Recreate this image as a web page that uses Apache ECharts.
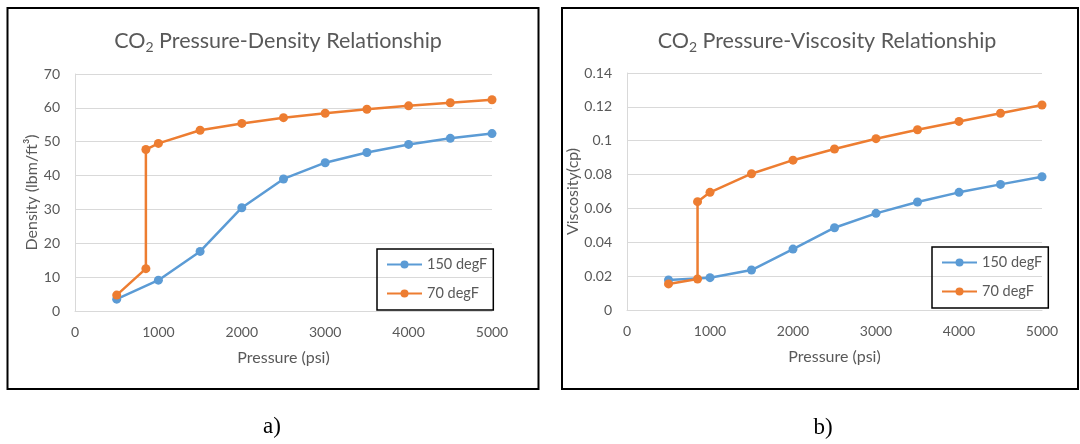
<!DOCTYPE html>
<html>
<head>
<meta charset="utf-8">
<script src="https://cdn.jsdelivr.net/npm/echarts@6/dist/echarts.min.js"></script>
<style>
  html, body { margin: 0; padding: 0; background: #fff; }
  #main { width: 1080px; height: 444px; }
</style>
</head>
<body>
<div id="main"></div>
<script>
// pressure (psi) for each series
const pressure150 = [500, 1000, 1500, 2000, 2500, 3000, 3500, 4000, 4500, 5000];
const pressure70 = [500, 850, 850, 1000, 1500, 2000, 2500, 3000, 3500, 4000, 4500, 5000];

// density (lbm/ft3)
const density150 = [3.5, 9.1, 17.6, 30.5, 39.0, 43.8, 46.8, 49.2, 51.0, 52.4];
const density70 = [4.7, 12.5, 47.7, 49.5, 53.4, 55.4, 57.1, 58.4, 59.6, 60.6, 61.5, 62.4];

// viscosity (cp)
const viscosity150 = [0.0177, 0.0191, 0.0236, 0.036, 0.0486, 0.0571, 0.0638, 0.0695, 0.0742, 0.0787];
const viscosity70 = [0.0154, 0.0183, 0.064, 0.0695, 0.0805, 0.0885, 0.0951, 0.1012, 0.1065, 0.1114, 0.1162, 0.1211];

const seriesNames = ['150 degF', '70 degF'];
const colors = ['#5B9BD5', '#ED7D31'];

const FONT = 'Lato';
const GREY = '#595959';

function pairs(xs, ys) {
    return xs.map((x, i) => [x, ys[i]]);
}

function lineSeries(name, idx, data, color) {
    return {
        name: name,
        type: 'line',
        xAxisIndex: idx,
        yAxisIndex: idx,
        data: data,
        symbol: 'circle',
        symbolSize: 9,
        color: color,
        lineStyle: { width: 2.5, color: color },
        itemStyle: { color: color },
        animation: false
    };
}

function xAxisOpt(idx) {
    return {
        gridIndex: idx,
        type: 'value',
        min: 0,
        max: 5000,
        interval: 1000,
        name: 'Pressure (psi)',
        nameLocation: 'middle',
        nameGap: 39,
        nameTextStyle: { color: GREY, fontFamily: FONT, fontSize: 16 },
        axisLine: { show: true, lineStyle: { color: '#D9D9D9', width: 1 } },
        axisTick: { show: false },
        splitLine: { show: false },
        axisLabel: { color: GREY, fontFamily: FONT, fontSize: 14, margin: 14, formatter: v => String(v) }
    };
}

function yAxisOpt(idx, name, max, interval, gap) {
    return {
        gridIndex: idx,
        type: 'value',
        min: 0,
        max: max,
        interval: interval,
        name: name,
        nameLocation: 'middle',
        nameGap: gap,
        nameTextStyle: { color: GREY, fontFamily: FONT, fontSize: 16 },
        axisLine: { show: true, lineStyle: { color: '#D9D9D9', width: 1 } },
        axisTick: { show: false },
        splitLine: { show: true, lineStyle: { color: '#D9D9D9', width: 1 } },
        axisLabel: { color: GREY, fontFamily: FONT, fontSize: 14, margin: 15 }
    };
}

function titleOpt(x, rest) {
    return {
        text: 'CO{sub|2} ' + rest,
        left: x,
        top: 23,
        textAlign: 'center',
        textStyle: {
            color: GREY, fontFamily: FONT, fontSize: 21.5, fontWeight: 'normal',
            lineHeight: 26,
            rich: {
                sub: { color: GREY, fontFamily: FONT, fontSize: 14, verticalAlign: 'bottom', lineHeight: 12 }
            }
        }
    };
}

function legendOpt(left, top) {
    return {
        data: seriesNames,
        orient: 'vertical',
        left: left,
        top: top,
        padding: [8, 6, 9, 9],
        itemGap: 14,
        itemWidth: 35,
        itemHeight: 10,
        borderColor: '#000',
        borderWidth: 1.5,
        borderRadius: 0,
        textStyle: { color: GREY, fontFamily: FONT, fontSize: 14.5 }
    };
}

let myChart = echarts.init(document.getElementById('main'), null, { renderer: 'canvas' });

let option = {
    backgroundColor: '#fff',
    animation: false,
    title: [
        titleOpt(273, 'Pressure-Density Relationship'),
        titleOpt(822, 'Pressure-Viscosity Relationship')
    ],
    legend: [legendOpt(377, 249), legendOpt(932, 247)],
    grid: [
        { left: 75, top: 74, width: 417, height: 237 },
        { left: 627, top: 73, width: 415, height: 237 }
    ],
    xAxis: [xAxisOpt(0), xAxisOpt(1)],
    yAxis: [
        yAxisOpt(0, 'Density (lbm/ft³)', 70, 10, 35),
        yAxisOpt(1, 'Viscosity(cp)', 0.14, 0.02, 43)
    ],
    series: [
        lineSeries(seriesNames[0], 0, pairs(pressure150, density150), colors[0]),
        lineSeries(seriesNames[1], 0, pairs(pressure70, density70), colors[1]),
        lineSeries(seriesNames[0], 1, pairs(pressure150, viscosity150), colors[0]),
        lineSeries(seriesNames[1], 1, pairs(pressure70, viscosity70), colors[1])
    ],
    graphic: [
        { type: 'rect', shape: { x: 7.5, y: 8, width: 531, height: 381 }, style: { fill: null, stroke: '#000', lineWidth: 2 }, silent: true },
        { type: 'rect', shape: { x: 562, y: 8, width: 516, height: 381 }, style: { fill: null, stroke: '#000', lineWidth: 2 }, silent: true },
        { type: 'text', x: 272, y: 427, style: { text: 'a)', font: '23px "Liberation Serif"', fill: '#000', textAlign: 'center', textVerticalAlign: 'middle' } },
        { type: 'text', x: 823, y: 428, style: { text: 'b)', font: '23px "Liberation Serif"', fill: '#000', textAlign: 'center', textVerticalAlign: 'middle' } }
    ]
};

myChart.setOption(option);
</script>
</body>
</html>
